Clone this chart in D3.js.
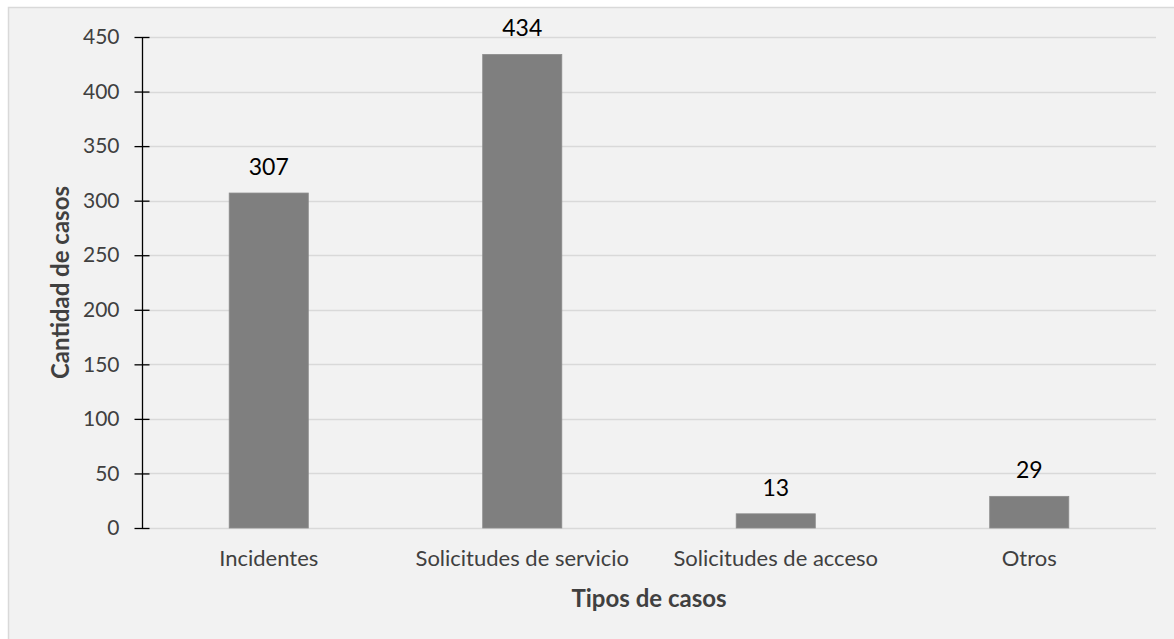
<!DOCTYPE html>
<html>
<head>
<meta charset="utf-8">
<script src="https://cdn.jsdelivr.net/npm/d3@7"></script>
<style>
  html, body { margin: 0; padding: 0; background: #ffffff; }
  svg { display: block; }
  text { font-family: Lato, "Open Sans", sans-serif; }
</style>
</head>
<body>
<svg id="chart" width="1174" height="639"></svg>
<script>
const categories = ["Incidentes", "Solicitudes de servicio", "Solicitudes de acceso", "Otros"];
const values = [307, 434, 13, 29];
const yTicks = [0, 50, 100, 150, 200, 250, 300, 350, 400, 450];
const yTitle = "Cantidad de casos";
const xTitle = "Tipos de casos";

const svg = d3.select("#chart");
const W = 1174, H = 639;
const plot = { left: 142, right: 1156, top: 37, bottom: 528 };

// chart background
svg.append("rect")
  .attr("x", 8.5).attr("y", 7.5)
  .attr("width", W + 20).attr("height", H + 20)
  .attr("fill", "#f2f2f2")
  .attr("stroke", "#d9d9d9").attr("stroke-width", 1.5);

const y = d3.scaleLinear().domain([0, 450]).range([plot.bottom, plot.top]);
const x = d3.scaleBand().domain(categories)
  .range([plot.left, plot.right])
  .paddingInner(0.688).paddingOuter(0.344);

// gridlines
svg.append("g").selectAll("line")
  .data(yTicks)
  .join("line")
  .attr("x1", plot.left).attr("x2", plot.right)
  .attr("y1", d => Math.round(y(d)) + 0.5).attr("y2", d => Math.round(y(d)) + 0.5)
  .attr("stroke", "#d9d9d9").attr("stroke-width", 1.5);

// bars
svg.append("g").selectAll("rect")
  .data(values)
  .join("rect")
  .attr("x", (d, i) => x(categories[i]))
  .attr("width", x.bandwidth())
  .attr("y", d => y(d))
  .attr("height", d => y(0) - y(d))
  .attr("fill", "#7f7f7f")
  .attr("stroke", "#8c8c8c").attr("stroke-width", 0.8);

// y axis
const yAxis = d3.axisLeft(y).tickValues(yTicks).tickSize(8).tickPadding(15);
const gy = svg.append("g")
  .attr("transform", `translate(${plot.left + 0.5},0)`)
  .call(yAxis);
gy.select(".domain").attr("stroke", "#000").attr("stroke-width", 1.3)
  .attr("d", `M0,${plot.top}V${plot.bottom}`);
gy.selectAll(".tick line").attr("stroke", "#000").attr("stroke-width", 1.3)
  .attr("x1", -8).attr("x2", 7);
gy.selectAll(".tick text")
  .attr("fill", "#404040")
  .style("font-size", "21px")
  .style("font-family", "Lato, sans-serif");

// value labels
svg.append("g").selectAll("text")
  .data(values)
  .join("text")
  .attr("x", (d, i) => x(categories[i]) + x.bandwidth() / 2)
  .attr("y", d => y(d) - 18)
  .attr("text-anchor", "middle")
  .attr("fill", "#000")
  .style("font-size", "23px")
  .text(d => d);

// category labels
const xAxis = d3.axisBottom(x).tickSize(0).tickPadding(22);
const gx = svg.append("g")
  .attr("transform", `translate(0,${plot.bottom})`)
  .call(xAxis);
gx.select(".domain").remove();
gx.selectAll(".tick text")
  .attr("fill", "#404040")
  .style("font-size", "22px")
  .style("font-family", "Lato, sans-serif");

// axis titles
svg.append("text")
  .attr("x", (plot.left + plot.right) / 2)
  .attr("y", 607)
  .attr("text-anchor", "middle")
  .attr("fill", "#404040")
  .style("font-size", "24px")
  .style("font-weight", "bold")
  .text(xTitle);

svg.append("text")
  .attr("transform", `translate(69,${(plot.top + plot.bottom) / 2}) rotate(-90)`)
  .attr("text-anchor", "middle")
  .attr("fill", "#404040")
  .style("font-size", "24px")
  .style("font-weight", "bold")
  .text(yTitle);
</script>
</body>
</html>
